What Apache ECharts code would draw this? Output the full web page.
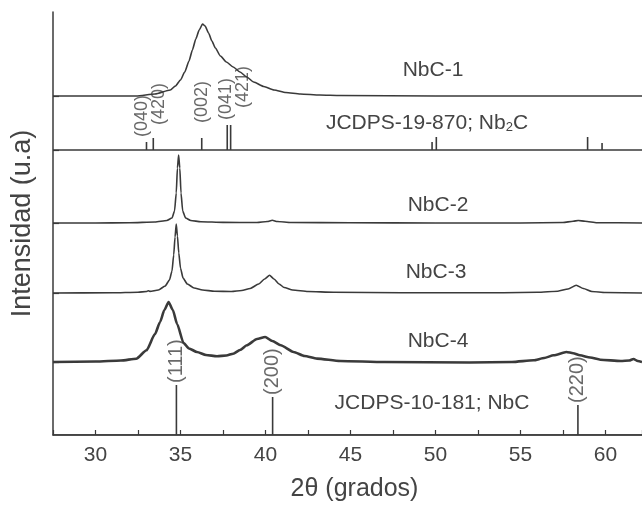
<!DOCTYPE html>
<html>
<head>
<meta charset="utf-8">
<script src="https://cdn.jsdelivr.net/npm/echarts@6/dist/echarts.min.js"></script>
<style>
  html, body { margin: 0; padding: 0; background: #fff; }
  #chart { width: 642px; height: 506px; }
</style>
</head>
<body>
<div id="chart"></div>
<script>
// 2θ scan range and tick spacing
const twoThetaMin = 27.5;
const twoThetaMax = 62.15;
const tickStep = 2.5;

// Stacking offsets of each pattern (arbitrary intensity units)
const offNbC1 = 339;
const offNb2C = 285;
const offNbC2 = 212;
const offNbC3 = 142;
const offNbC4 = 73;
const offNbC = 0;

// Measured diffractograms: [2θ, relative intensity]
const nbc1 = [
  [27.5, 0], [32.4, 0], [33.5, 2], [34.4, 6], [34.7, 10], [35.0, 16], [35.25, 24],
  [35.5, 35], [35.7, 46], [35.9, 57], [36.1, 66], [36.3, 72], [36.45, 70], [36.65, 63],
  [36.85, 55], [37.05, 48], [37.35, 40], [37.7, 34], [38.1, 29], [38.5, 24], [38.9, 19],
  [39.3, 14], [39.9, 9.5], [40.5, 6], [41.2, 3.5], [42.05, 2], [43.2, 1], [44.4, 0.5],
  [50, 0], [62.15, 0]
];
const nbc2 = [
  [27.5, 0], [30, 0], [32, 0.3], [33.5, 1], [34.2, 2.5], [34.5, 5], [34.65, 12],
  [34.75, 30], [34.82, 55], [34.89, 68], [34.96, 55], [35.03, 30], [35.13, 12],
  [35.3, 5], [35.6, 2.5], [36.2, 1.3], [37.5, 0.6], [39.5, 0.5], [40.1, 1.5],
  [40.4, 2.7], [40.7, 1.5], [41.5, 0.5], [45, 0.2], [50, 0], [55, 0], [57.5, 0.5],
  [58.1, 1.8], [58.4, 2.5], [58.8, 1.8], [59.5, 0.3], [62.15, 0]
];
const nbc3 = [
  [27.5, 0], [31, 0.2], [32.5, 0.8], [33.0, 1.5], [33.1, 2.3], [33.2, 1.6], [33.7, 3],
  [34.1, 7], [34.35, 13], [34.5, 22], [34.6, 38], [34.68, 56], [34.75, 69], [34.82, 57],
  [34.9, 40], [35.0, 25], [35.15, 15], [35.4, 9], [35.8, 5], [36.3, 3], [37, 1.8],
  [38, 1.5], [38.6, 2.5], [39.1, 4.5], [39.6, 9], [39.95, 14], [40.24, 17.7], [40.5, 14],
  [40.8, 9], [41.1, 5.5], [41.6, 3], [42.5, 1.5], [44, 0.8], [48, 0.3], [54, 0.3],
  [56, 0.8], [57.2, 1.8], [57.8, 4], [58.28, 7.7], [58.7, 4.5], [59.2, 1.5], [60, 0.5],
  [62.15, 0]
];
const nbc4 = [
  [27.5, 0], [30, 0.5], [31.5, 1.5], [32.4, 3.3], [33.0, 11.7], [33.5, 28], [33.8, 40],
  [34.05, 52], [34.3, 60], [34.55, 52], [34.8, 38], [35.18, 19], [35.5, 13.5],
  [35.97, 10], [36.5, 7], [37.15, 5.7], [37.7, 6.5], [38.1, 8.3], [38.5, 12], [38.9, 16.7],
  [39.5, 23], [39.98, 25], [40.4, 21], [40.9, 16.7], [41.65, 10], [42.3, 6], [43.03, 3.4],
  [44.4, 1], [47, 0], [52, -0.5], [54.5, 0], [55.77, 1.7], [56.4, 4], [56.95, 6.7],
  [57.7, 10], [58.1, 8.8], [58.5, 6.7], [59.1, 4.5], [59.7, 2.3], [60.9, 1], [61.4, 1.5],
  [61.65, 3], [61.9, 1], [62.15, 0]
];

// Reference card JCPDS 19-870 (Nb2C): line positions and heights
const nb2cPeaks = [33.0, 33.4, 36.25, 37.75, 37.95, 49.8, 50.05, 58.95, 59.8];
const nb2cHeights = [8, 12, 12, 25, 25, 8, 13, 13, 7];
const nb2cHkl = ['(040)', '(420)', '(002)', '(041)', '(421)'];
const nb2cHklPos = [32.76, 33.76, 36.29, 37.7, 38.7];
const nb2cHklLift = [13, 25, 27, 30, 42];

// Reference card JCPDS 10-181 (NbC)
const nbcPeaks = [34.76, 40.42, 58.38];
const nbcHeights = [50, 38, 30];
const nbcHkl = ['(111)', '(200)', '(220)'];

// x-axis tick labels shown every 5°
const labelStep = 5;

const ink = '#3a3a3a';
const textInk = '#444';
const font = '"Liberation Sans", Arial, Helvetica, sans-serif';

const lift = (pts, off) => pts.map(p => [p[0], p[1] + off]);
function stickPattern(pos, h, base) {
  const d = [[twoThetaMin, base]];
  pos.forEach((x, i) => { d.push([x, base], [x, base + h[i]], [x, base]); });
  d.push([twoThetaMax, base]);
  return d;
}
function curve(name, pts, off, width) {
  return {
    name, type: 'line', data: lift(pts, off), symbol: 'none', silent: true,
    smooth: 0.2, smoothMonotone: 'x',
    lineStyle: { color: ink, width: width }
  };
}
function hklLabels(names, pos, heights, base, gap, size) {
  return {
    type: 'scatter', silent: true, symbolSize: 1,
    itemStyle: { color: 'rgba(0,0,0,0)' },
    data: names.map((n, i) => ({ name: n, value: [pos[i], base + heights[i] + gap] })),
    label: {
      show: true, position: 'inside', formatter: '{b}', rotate: 90,
      align: 'left', verticalAlign: 'middle',
      color: textInk, fontSize: size, fontFamily: font
    }
  };
}

const chart = echarts.init(document.getElementById('chart'), null, { renderer: 'canvas' });

const textStyleBase = { fill: textInk, font: '21px ' + font, align: 'center', verticalAlign: 'middle' };

chart.setOption({
  animation: false,
  backgroundColor: '#fff',
  grid: { left: 53, right: 0, top: 12, bottom: 71, outerBoundsMode: 'none' },
  xAxis: {
    type: 'value', min: twoThetaMin, max: twoThetaMax, interval: tickStep,
    name: '2θ (grados)', nameLocation: 'middle', nameGap: 42,
    nameTextStyle: { fontSize: 25, color: textInk, fontFamily: font, padding: [0, 0, 0, 14] },
    axisLine: { onZero: false, lineStyle: { color: ink, width: 1.5 } },
    axisTick: { inside: true, length: 5, lineStyle: { color: ink, width: 1.2 } },
    axisLabel: {
      margin: 10, color: textInk, fontSize: 21, fontFamily: font,
      formatter: v => (Math.abs(v % labelStep) < 1e-6 ? String(v) : '')
    },
    splitLine: { show: false }
  },
  yAxis: {
    type: 'value', min: 0, max: 423,
    name: 'Intensidad (u.a)', nameLocation: 'middle', nameGap: 17,
    nameTextStyle: { fontSize: 27, color: textInk, fontFamily: font, padding: [0, 0, 0, 0] },
    axisLine: { show: true, onZero: false, lineStyle: { color: ink, width: 1.5 } },
    axisTick: {
      show: true, inside: true, length: 6,
      customValues: [offNbC1, offNb2C, offNbC2, offNbC3, offNbC4],
      lineStyle: { color: ink, width: 1.2 }
    },
    axisLabel: { show: false },
    splitLine: { show: false }
  },
  series: [
    curve('NbC-1', nbc1, offNbC1, 1.6),
    {
      name: 'Nb2C', type: 'line', data: stickPattern(nb2cPeaks, nb2cHeights, offNb2C),
      symbol: 'none', silent: true, lineStyle: { color: ink, width: 1.6 }
    },
    curve('NbC-2', nbc2, offNbC2, 1.6),
    curve('NbC-3', nbc3, offNbC3, 1.6),
    curve('NbC-4', nbc4, offNbC4, 2.6),
    {
      name: 'NbC', type: 'line', data: stickPattern(nbcPeaks, nbcHeights, offNbC),
      symbol: 'none', silent: true, lineStyle: { color: ink, width: 1.6 }
    },
    hklLabels(nb2cHkl, nb2cHklPos, nb2cHklLift, offNb2C, 0, 18),
    hklLabels(nbcHkl, nbcPeaks, nbcHeights, offNbC, 2, 20)
  ],
  graphic: [
    { type: 'text', x: 433, y: 70, silent: true, style: Object.assign({ text: 'NbC-1' }, textStyleBase) },
    {
      type: 'text', x: 427, y: 122, silent: true,
      style: {
        text: '{a|JCDPS-19-870; Nb}{s|2}{a|C}', align: 'center', verticalAlign: 'middle',
        rich: {
          a: { fill: textInk, fontSize: 21, fontFamily: font, lineHeight: 24, verticalAlign: 'bottom' },
          s: { fill: textInk, fontSize: 13, fontFamily: font, lineHeight: 16, verticalAlign: 'bottom' }
        }
      }
    },
    { type: 'text', x: 438, y: 205, silent: true, style: Object.assign({ text: 'NbC-2' }, textStyleBase) },
    { type: 'text', x: 436, y: 272, silent: true, style: Object.assign({ text: 'NbC-3' }, textStyleBase) },
    { type: 'text', x: 438, y: 341, silent: true, style: Object.assign({ text: 'NbC-4' }, textStyleBase) },
    { type: 'text', x: 432, y: 403, silent: true, style: Object.assign({ text: 'JCDPS-10-181; NbC' }, textStyleBase) }
  ]
});
</script>
</body>
</html>
